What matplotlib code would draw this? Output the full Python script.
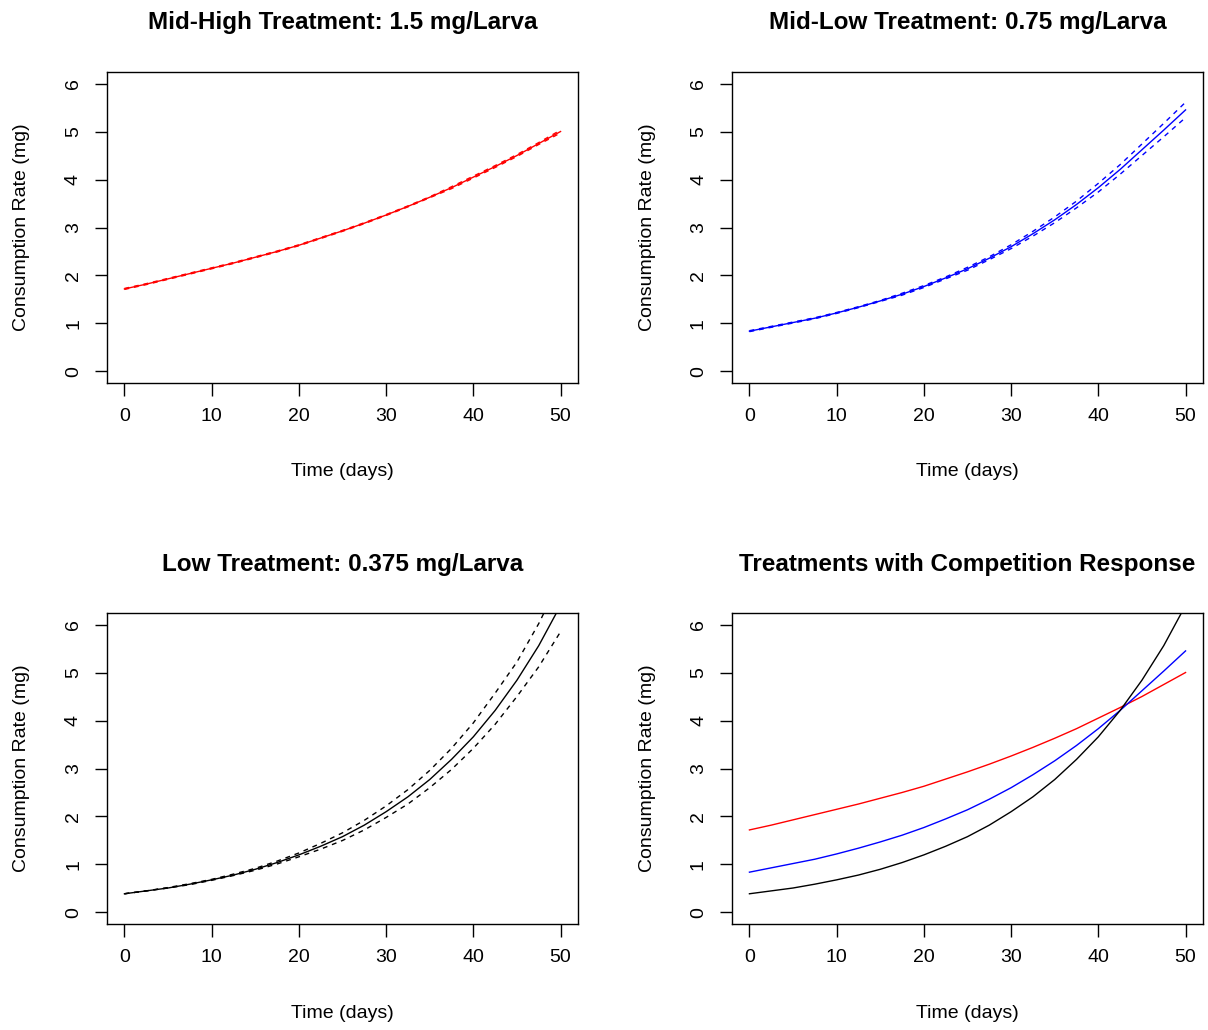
import matplotlib
matplotlib.use("Agg")
import matplotlib.pyplot as plt
import numpy as np

plt.rcParams["font.family"] = ["Liberation Sans", "DejaVu Sans"]

# ── data (every 2.5 days) ────────────────────────────────────────────────
days = np.arange(0, 50.1, 2.5)

high_mean = [1.72, 1.82, 1.93, 2.04, 2.15, 2.26, 2.38, 2.50, 2.63, 2.78, 2.93,
             3.09, 3.26, 3.44, 3.63, 3.83, 4.05, 4.27, 4.50, 4.75, 5.00]
high_upper = [1.73, 1.83, 1.94, 2.05, 2.16, 2.27, 2.39, 2.51, 2.64, 2.79, 2.94,
              3.10, 3.27, 3.45, 3.64, 3.85, 4.07, 4.29, 4.52, 4.77, 5.03]
high_lower = [1.71, 1.81, 1.92, 2.03, 2.14, 2.25, 2.37, 2.49, 2.62, 2.77, 2.92,
              3.08, 3.25, 3.43, 3.62, 3.81, 4.03, 4.25, 4.48, 4.73, 4.97]

midlow_mean = [0.84, 0.93, 1.02, 1.11, 1.22, 1.34, 1.47, 1.61, 1.77, 1.95, 2.14,
               2.36, 2.60, 2.87, 3.16, 3.48, 3.83, 4.21, 4.62, 5.03, 5.45]
midlow_upper = [0.85, 0.94, 1.03, 1.12, 1.23, 1.35, 1.48, 1.63, 1.79, 1.97, 2.17,
                2.39, 2.64, 2.92, 3.22, 3.55, 3.92, 4.31, 4.74, 5.17, 5.61]
midlow_lower = [0.83, 0.92, 1.01, 1.10, 1.21, 1.33, 1.46, 1.59, 1.75, 1.93, 2.11,
                2.33, 2.56, 2.82, 3.10, 3.41, 3.74, 4.11, 4.50, 4.89, 5.29]

low_mean = [0.39, 0.45, 0.51, 0.59, 0.68, 0.78, 0.90, 1.04, 1.20, 1.38, 1.58,
            1.82, 2.10, 2.41, 2.77, 3.19, 3.66, 4.21, 4.84, 5.56, 6.40]
low_upper = [0.39, 0.45, 0.52, 0.60, 0.69, 0.80, 0.92, 1.07, 1.24, 1.44, 1.66,
             1.92, 2.22, 2.56, 2.96, 3.42, 3.95, 4.57, 5.22, 6.02, 6.95]
low_lower = [0.39, 0.45, 0.51, 0.58, 0.67, 0.77, 0.88, 1.01, 1.16, 1.32, 1.50,
             1.72, 1.98, 2.26, 2.60, 2.98, 3.42, 3.92, 4.50, 5.12, 5.85]

titles = ["Mid-High Treatment: 1.5 mg/Larva",
          "Mid-Low Treatment: 0.75 mg/Larva",
          "Low Treatment: 0.375 mg/Larva",
          "Treatments with Competition Response"]
x_ticks = [0, 10, 20, 30, 40, 50]
y_ticks = [0, 1, 2, 3, 4, 5, 6]

W, H = 1208, 1030
DASH = (0, (3.5, 3.5))


def r_axes(fig, left_px, top_px, title):
    """R base-graphics look: full box, outward ticks, rotated y labels"""
    w_px, h_px = 471, 311
    ax = fig.add_axes([left_px / W, 1 - (top_px + h_px) / H, w_px / W, h_px / H])
    ax.set_xlim(-2, 52)
    ax.set_ylim(-0.24, 6.24)
    ax.set_xticks(x_ticks)
    ax.set_yticks(y_ticks)
    for s in ax.spines.values():
        s.set_linewidth(1.0)
        s.set_color("black")
    ax.tick_params(direction="out", length=9, width=1.0, labelsize=14, pad=9)
    ax.tick_params(axis="y", labelrotation=90)
    for lbl in ax.get_yticklabels():
        lbl.set_va("center")
    ax.set_xlabel("Time (days)", fontsize=14)
    ax.set_ylabel("Consumption Rate (mg)", fontsize=14)
    ax.xaxis.set_label_coords(0.5, -89 / h_px)
    ax.xaxis.label.set_va("center")
    ax.yaxis.set_label_coords(-85 / w_px, 0.5)
    ax.yaxis.label.set_va("center")
    ax.text(0.5, 1 + 49 / h_px, title, transform=ax.transAxes, ha="center",
            va="center", fontsize=17.5, fontweight="bold")
    return ax


fig = plt.figure(figsize=(W / 100, H / 100), dpi=100)

# ── 1. Mid-High ──────────────────────────────────────────────────────────
ax1 = r_axes(fig, 107, 72, titles[0])
ax1.plot(days, high_mean, color="red", lw=1)
ax1.plot(days, high_upper, color="red", lw=1, linestyle=DASH)
ax1.plot(days, high_lower, color="red", lw=1, linestyle=DASH)

# ── 2. Mid-Low ───────────────────────────────────────────────────────────
ax2 = r_axes(fig, 732, 72, titles[1])
ax2.plot(days, midlow_mean, color="blue", lw=1)
ax2.plot(days, midlow_upper, color="blue", lw=1, linestyle=DASH)
ax2.plot(days, midlow_lower, color="blue", lw=1, linestyle=DASH)

# ── 3. Low ───────────────────────────────────────────────────────────────
ax3 = r_axes(fig, 107, 613, titles[2])
ax3.plot(days, low_mean, color="black", lw=1)
ax3.plot(days, low_upper, color="black", lw=1, linestyle=DASH)
ax3.plot(days, low_lower, color="black", lw=1, linestyle=DASH)

# ── 4. all treatments ────────────────────────────────────────────────────
ax4 = r_axes(fig, 732, 613, titles[3])
ax4.plot(days, high_mean, color="red", lw=1)
ax4.plot(days, midlow_mean, color="blue", lw=1)
ax4.plot(days, low_mean, color="black", lw=1)

fig.savefig("out.png", dpi=100)
